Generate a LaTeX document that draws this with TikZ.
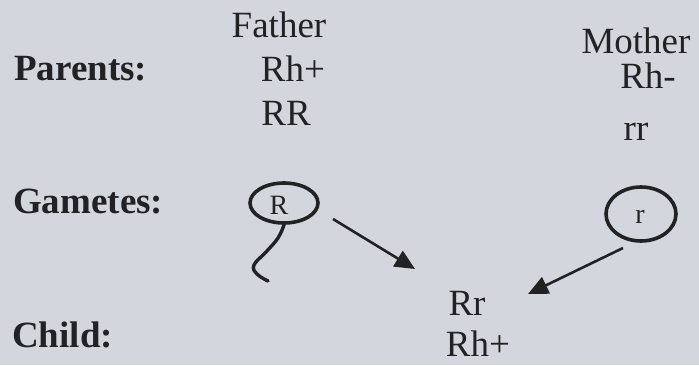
\documentclass[tikz,border=0pt]{standalone}
\usepackage{fontspec}
\setmainfont{Liberation Serif}
\usetikzlibrary{shapes.geometric,arrows.meta}
\definecolor{paper}{RGB}{211,215,221}
\definecolor{ink}{RGB}{34,34,36}
\tikzset{
  head/.style={font=\fontsize{37}{40}\selectfont\bfseries, text=ink, inner sep=0pt, anchor=base west},
  txt/.style={font=\fontsize{37}{40}\selectfont, text=ink, inner sep=0pt, anchor=base},
  gam/.style={draw=ink, ellipse, line width=3.6pt, inner sep=0pt},
  gtxt/.style={font=\fontsize{28}{30}\selectfont, text=ink, inner sep=0pt},
  link/.style={draw=ink, line width=2.6pt, -{Triangle[length=20pt,width=18pt]}},
}
\begin{document}
\begin{tikzpicture}[x=1pt,y=-1pt]
  \fill[paper] (0,0) rectangle (699,365);
  \useasboundingbox (0,0) rectangle (699,365);

  % row labels
  \node[head] (lp) at (14,80) {Parents:};
  \node[head] (lg) at (13,213) {Gametes:};
  \node[head] (lc) at (12,347) {Child:};

  % father
  \node[txt] (fa) at (279,37) {Father};
  \node[txt] (f1) at (293,81) {Rh+};
  \node[txt] (f2) at (286,125) {RR};

  % mother
  \node[txt] (mo) at (636,53) {Mother};
  \node[txt] (m1) at (648,88) {Rh-};
  \node[txt] (m2) at (636,140) {rr};

  % gametes
  \node[gam, minimum width=68pt, minimum height=40pt] (gR) at (284,203) {};
  \node[gtxt] (tR) at (279,205) {R};
  \node[gam, minimum width=70pt, minimum height=54pt] (gr) at (641,214) {};
  \node[gtxt] (tr) at (640,217) {r};

  % sperm tail on the father's gamete
  \draw[ink, line width=3.4pt, line cap=round]
    plot[smooth, tension=0.7] coordinates {(gR.south) (278,238) (266,252) (254,265) (257,274) (268,281)};

  % child
  \node[txt] (c1) at (467,315) {Rr};
  \node[txt] (c2) at (478,356) {Rh+};

  % arrows from the gametes to the child
  \coordinate (sR) at (333,219);
  \coordinate (eR) at (415,269);
  \coordinate (sr) at (623,248);
  \coordinate (er) at (528,294);
  \draw[link] (sR) -- (eR);
  \draw[link] (sr) -- (er);
\end{tikzpicture}
\end{document}
